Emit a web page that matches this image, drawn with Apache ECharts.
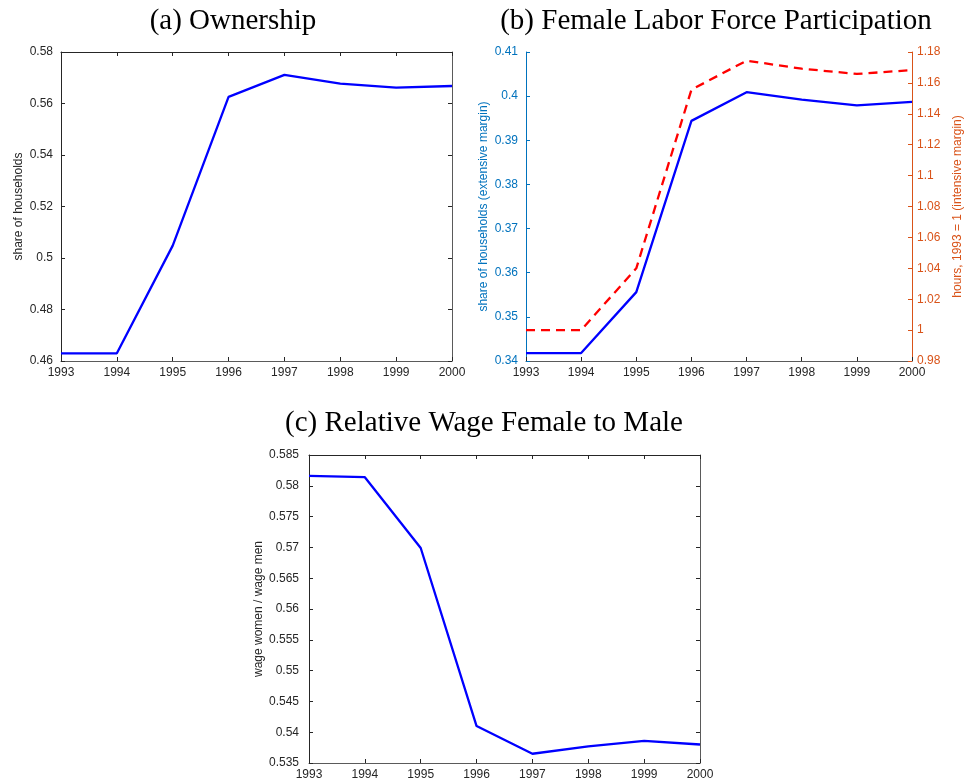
<!DOCTYPE html>
<html>
<head>
<meta charset="utf-8">
<script src="https://cdn.jsdelivr.net/npm/echarts@6/dist/echarts.min.js"></script>
<style>
html,body{margin:0;padding:0;background:#fff;}
#chart{width:966px;height:782px;}
</style>
</head>
<body>
<div id="chart"></div>
<script>
const years = [1993, 1994, 1995, 1996, 1997, 1998, 1999, 2000];
const ownership = [0.4630, 0.4630, 0.5048, 0.5626, 0.5711, 0.5677, 0.5662, 0.5668];
const lfpExtensive = [0.3418, 0.3418, 0.3556, 0.3944, 0.4009, 0.3992, 0.3979, 0.3987];
const lfpIntensive = [1.000, 1.000, 1.040, 1.1556, 1.1744, 1.1692, 1.1658, 1.1683];
const relWage = [0.5816, 0.5814, 0.5699, 0.5410, 0.5365, 0.5377, 0.5386, 0.5380];
const titles = ['(a) Ownership', '(b) Female Labor Force Participation', '(c) Relative Wage Female to Male'];
const yNames = ['share of households', 'share of households (extensive margin)', 'hours, 1993 = 1 (intensive margin)', 'wage women / wage men'];

const pairs = v => years.map((y, i) => [y, v[i]]);
const FRAME = '#262626';
const FRAME2 = '#5a5a5a';
const BLUE_AX = '#0072BD';
const ORANGE_AX = '#D95319';
const SANS = 'Liberation Sans, Arial, sans-serif';
const SERIF = 'Liberation Serif, Times New Roman, serif';

function xAx(grid, pos, labels, color) {
  return {
    type: 'value', gridIndex: grid, position: pos, min: 1993, max: 2000, interval: 1,
    axisLine: {show: true, onZero: false, lineStyle: {color: color, width: 1}},
    axisTick: {show: true, inside: true, length: 4, lineStyle: {color: FRAME}},
    axisLabel: {show: labels, color: FRAME, fontFamily: SANS, fontSize: 12, margin: 6,
      formatter: v => String(v), showMinLabel: true, showMaxLabel: true},
    splitLine: {show: false}
  };
}
function yAx(grid, pos, min, max, interval, labels, color, name, nameGap, labelColor, margin) {
  return {
    type: 'value', gridIndex: grid, position: pos, min: min, max: max, interval: interval,
    name: name || '', nameLocation: 'middle', nameGap: nameGap || 0, nameRotate: 90,
    nameTextStyle: {color: labelColor || FRAME, fontFamily: SANS, fontSize: 12},
    axisLine: {show: true, onZero: false, lineStyle: {color: color, width: 1}},
    axisTick: {show: true, inside: true, length: 4, lineStyle: {color: labelColor || FRAME}},
    axisLabel: {show: labels, color: labelColor || FRAME, fontFamily: SANS, fontSize: 12, margin: margin || 8,
      showMinLabel: true, showMaxLabel: true},
    splitLine: {show: false}
  };
}

const chart = echarts.init(document.getElementById('chart'), null, {renderer: 'canvas'});
chart.setOption({
  backgroundColor: '#fff',
  animation: false,
  graphic: [
    {type: 'text', x: 233, y: 21, style: {text: titles[0], font: '29px ' + SERIF, fill: '#000', textAlign: 'center', textVerticalAlign: 'middle'}},
    {type: 'text', x: 716, y: 21, style: {text: titles[1], font: '29px ' + SERIF, fill: '#000', textAlign: 'center', textVerticalAlign: 'middle'}},
    {type: 'text', x: 484, y: 423, style: {text: titles[2], font: '29px ' + SERIF, fill: '#000', textAlign: 'center', textVerticalAlign: 'middle'}}
  ],
  grid: [
    {left: 61, top: 52, width: 391, height: 309},
    {left: 526, top: 52, width: 386, height: 309},
    {left: 309, top: 455, width: 391, height: 308}
  ],
  xAxis: [
    xAx(0, 'bottom', true, FRAME2),
    xAx(0, 'top', false, FRAME),
    xAx(1, 'bottom', true, FRAME2),
    xAx(2, 'bottom', true, FRAME2),
    xAx(2, 'top', false, FRAME)
  ],
  yAxis: [
    yAx(0, 'left', 0.46, 0.58, 0.02, true, FRAME, yNames[0], 36),
    yAx(0, 'right', 0.46, 0.58, 0.02, false, FRAME2),
    yAx(1, 'left', 0.34, 0.41, 0.01, true, BLUE_AX, yNames[1], 36, BLUE_AX),
    yAx(1, 'right', 0.98, 1.18, 0.02, true, ORANGE_AX, yNames[2], 40, ORANGE_AX, 5),
    yAx(2, 'left', 0.535, 0.585, 0.005, true, FRAME, yNames[3], 43, FRAME, 10),
    yAx(2, 'right', 0.535, 0.585, 0.005, false, FRAME2)
  ],
  series: [
    {type: 'line', xAxisIndex: 0, yAxisIndex: 0, data: pairs(ownership), showSymbol: false,
      lineStyle: {color: '#0000ff', width: 2.3}, z: 5},
    {type: 'line', xAxisIndex: 2, yAxisIndex: 2, data: pairs(lfpExtensive), showSymbol: false,
      lineStyle: {color: '#0000ff', width: 2.3}, z: 5},
    {type: 'line', xAxisIndex: 2, yAxisIndex: 3, data: pairs(lfpIntensive), showSymbol: false,
      lineStyle: {color: '#ff0000', width: 2.3, type: [9, 6]}, z: 5},
    {type: 'line', xAxisIndex: 3, yAxisIndex: 4, data: pairs(relWage), showSymbol: false,
      lineStyle: {color: '#0000ff', width: 2.3}, z: 5}
  ]
});
</script>
</body>
</html>
